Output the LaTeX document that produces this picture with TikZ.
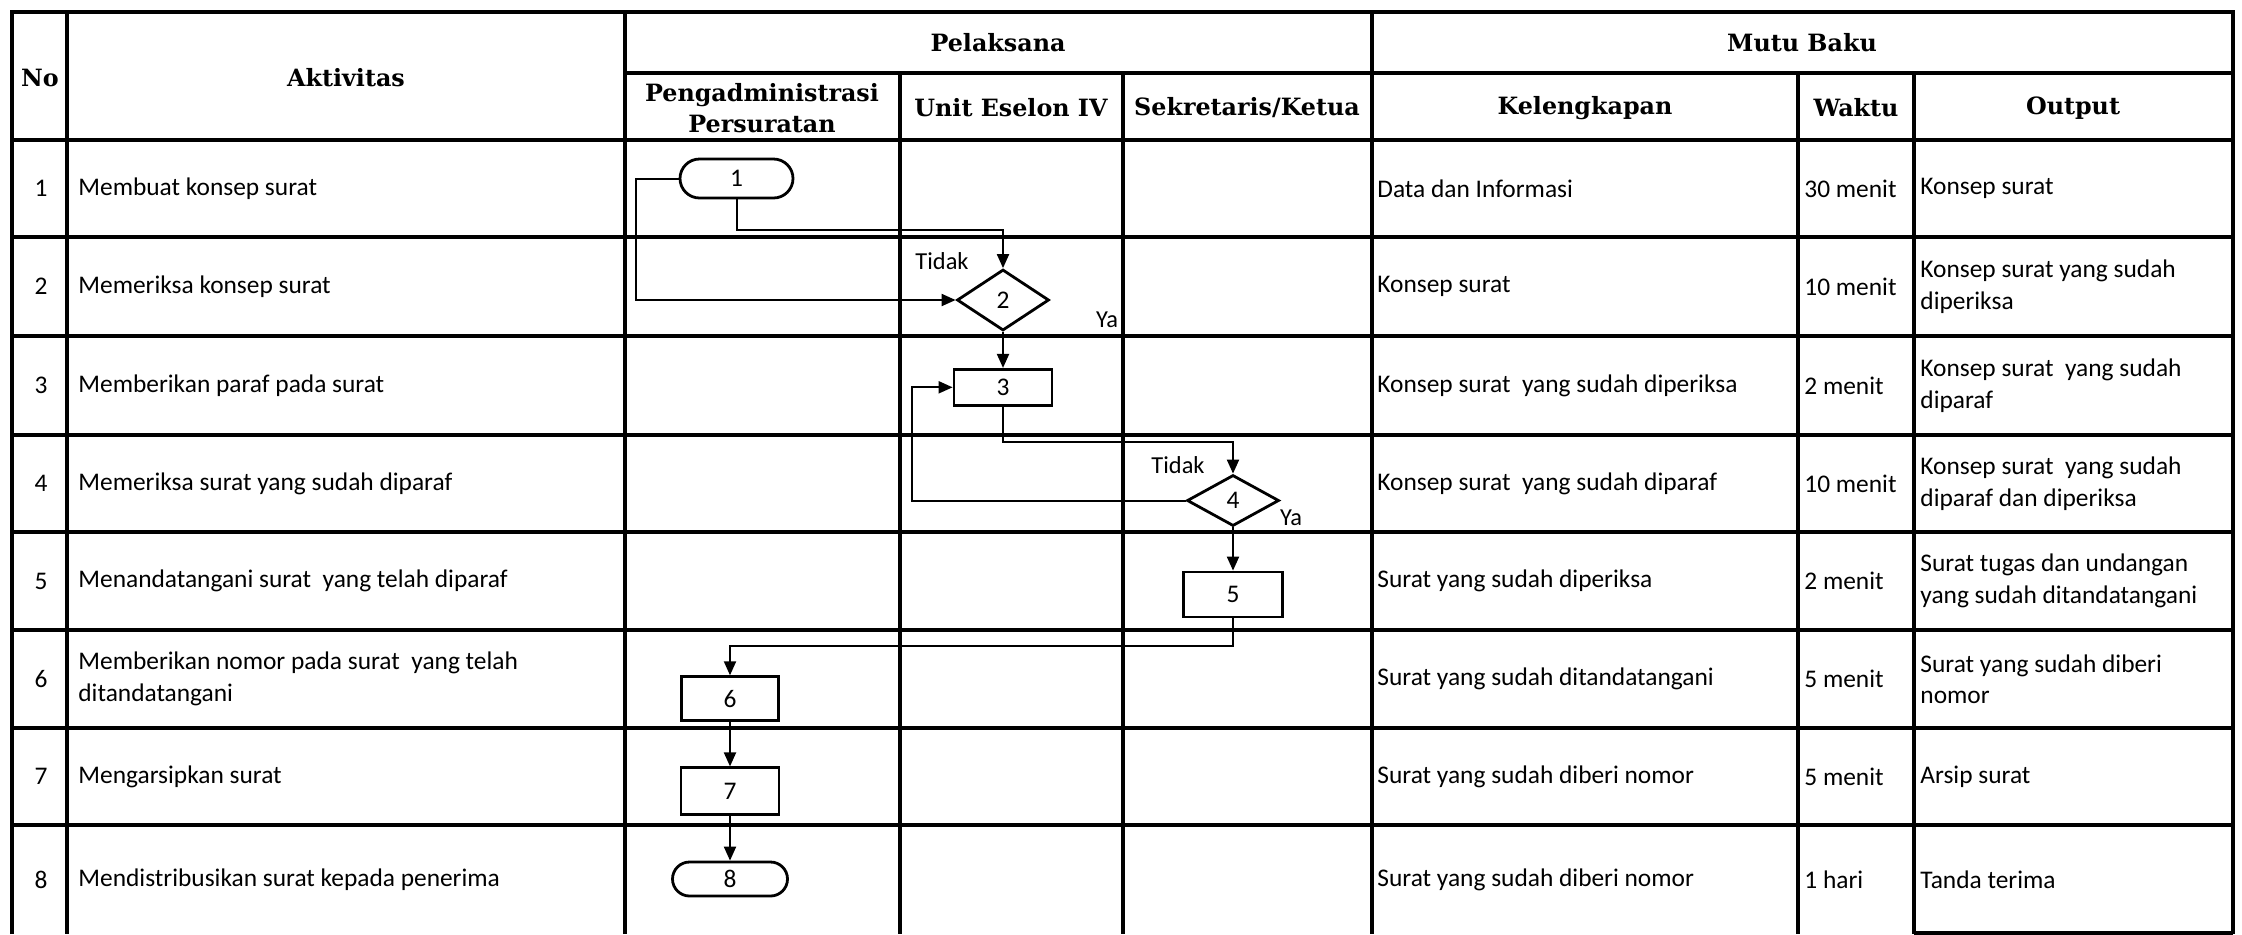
\documentclass[tikz,border=0pt]{standalone}
\usepackage{fontspec}
\setmainfont{Carlito}
\newfontfamily\hdrfont{DejaVu Serif}
\usetikzlibrary{shapes.geometric,shapes.misc,arrows.meta}

\begin{document}
\begin{tikzpicture}[x=0.5pt,y=-0.5pt,
  every node/.style={inner sep=0pt, font=\fontsize{12.7}{15.75}\selectfont},
  tbl/.style={line width=1.6pt},
  cell/.style={anchor=west, align=left},
  head/.style={font=\hdrfont\bfseries\fontsize{11.9}{15.5}\selectfont, align=center},
  shapeline/.style={draw, line width=1.4pt},
  proc/.style={shapeline, rectangle},
  term/.style={shapeline, rounded rectangle},
  dec/.style={shapeline, diamond},
  flow/.style={line width=1pt, -{Triangle[length=7pt,width=6pt]}},
  lbl/.style={font=\fontsize{12.2}{14}\selectfont}
]
\useasboundingbox (0,0) rectangle (2242,934);

% ---- table frame and rules ----
\draw[tbl] (12,934) -- (12,12) -- (2233,12) -- (2233,934);
\draw[tbl] (67,12) -- (67,934);
\draw[tbl] (625,12) -- (625,934);
\draw[tbl] (1372,12) -- (1372,934);
\draw[tbl] (900,73) -- (900,934);
\draw[tbl] (1123,73) -- (1123,934);
\draw[tbl] (1798,73) -- (1798,934);
\draw[tbl] (1914,73) -- (1914,934);
\draw[tbl] (625,73) -- (2233,73);
\foreach \y in {140,237,336,435,532,630,728,825}
  \draw[tbl] (12,\y) -- (2233,\y);
\draw[tbl] (1914,933) -- (2233,933);

% ---- header ----
\node[head] (hno)   at (40,78)    {No};
\node[head] (hakt)  at (346,78)   {Aktivitas};
\node[head] (hpel)  at (998,43)   {Pelaksana};
\node[head] (hmutu) at (1802,43)  {Mutu Baku};
\node[head] (hpeng) at (762,108)  {Pengadministrasi\\Persuratan};
\node[head] (hunit) at (1011,108) {Unit Eselon IV};
\node[head] (hsek)  at (1247,108) {Sekretaris/Ketua};
\node[head] (hkel)  at (1585,108) {Kelengkapan};
\node[head] (hwak)  at (1856,108) {Waktu};
\node[head] (hout)  at (2073,108) {Output};

% ---- row numbers ----
\foreach \i/\y in {1/188.5,2/286.5,3/385.5,4/483.5,5/581,6/679,7/776.5,8/879.5}
  \node (n\i) at (41,\y) {\i};

% ---- activities ----
\node[cell] (a1) at (78,188.5) {Membuat konsep surat};
\node[cell] (a2) at (78,286.5) {Memeriksa konsep surat};
\node[cell] (a3) at (78,385.5) {Memberikan paraf pada surat};
\node[cell] (a4) at (78,483.5) {Memeriksa surat yang sudah diparaf};
\node[cell] (a5) at (78,581)   {Menandatangani surat~ yang telah diparaf};
\node[cell] (a6) at (78,679)   {Memberikan nomor pada surat~ yang telah\\ditandatangani};
\node[cell] (a7) at (78,776.5) {Mengarsipkan surat};
\node[cell] (a8) at (78,879.5) {Mendistribusikan surat kepada penerima};

% ---- kelengkapan ----
\node[cell] (k1) at (1377,188.5) {Data dan Informasi};
\node[cell] (k2) at (1377,286.5) {Konsep surat};
\node[cell] (k3) at (1377,385.5) {Konsep surat~ yang sudah diperiksa};
\node[cell] (k4) at (1377,483.5) {Konsep surat~ yang sudah diparaf};
\node[cell] (k5) at (1377,581)   {Surat yang sudah diperiksa};
\node[cell] (k6) at (1377,679)   {Surat yang sudah ditandatangani};
\node[cell] (k7) at (1377,776.5) {Surat yang sudah diberi nomor};
\node[cell] (k8) at (1377,879.5) {Surat yang sudah diberi nomor};

% ---- waktu ----
\node[cell] (w1) at (1804,188.5) {30 menit};
\node[cell] (w2) at (1804,286.5) {10 menit};
\node[cell] (w3) at (1804,385.5) {2 menit};
\node[cell] (w4) at (1804,483.5) {10 menit};
\node[cell] (w5) at (1804,581)   {2 menit};
\node[cell] (w6) at (1804,679)   {5 menit};
\node[cell] (w7) at (1804,776.5) {5 menit};
\node[cell] (w8) at (1804,879.5) {1 hari};

% ---- output ----
\node[cell] (o1) at (1920,188.5) {Konsep surat};
\node[cell] (o2) at (1920,286.5) {Konsep surat yang sudah\\diperiksa};
\node[cell] (o3) at (1920,385.5) {Konsep surat~ yang sudah\\diparaf};
\node[cell] (o4) at (1920,483.5) {Konsep surat~ yang sudah\\diparaf dan diperiksa};
\node[cell] (o5) at (1920,581)   {Surat tugas dan undangan\\yang sudah ditandatangani};
\node[cell] (o6) at (1920,679)   {Surat yang sudah diberi\\nomor};
\node[cell] (o7) at (1920,776.5) {Arsip surat};
\node[cell] (o8) at (1920,879.5) {Tanda terima};

% ---- flowchart symbols ----
\node[term, minimum width=56.5pt, minimum height=19.5pt] (s1) at (736.5,178.5) {1};
\node[dec,  minimum width=46pt,   minimum height=30.5pt] (s2) at (1003,300)    {2};
\node[proc, minimum width=49pt,   minimum height=18pt]   (s3) at (1003,387.3)  {3};
\node[dec,  minimum width=46pt,   minimum height=25.5pt] (s4) at (1233,500.5)  {4};
\node[proc, minimum width=49.5pt, minimum height=22.5pt] (s5) at (1233,594.5)  {5};
\node[proc, minimum width=48.5pt, minimum height=22pt]   (s6) at (730,698.7)   {6};
\node[proc, minimum width=49pt,   minimum height=23.5pt] (s7) at (730,791.3)   {7};
\node[term, minimum width=57.5pt, minimum height=17pt]   (s8) at (730,879)     {8};

% ---- decision labels ----
\node[lbl] (t2) at (942,261)  {Tidak};
\node[lbl] (y2) at (1107,320) {Ya};
\node[lbl] (t4) at (1178,465) {Tidak};
\node[lbl] (y4) at (1291,518) {Ya};

% ---- connectors ----
\coordinate (c1) at (1003,230);
\coordinate (c2) at (636,300);
\coordinate (c3) at (1233,442);
\coordinate (c4) at (912,387.3);
\coordinate (c5) at (730,646);
\draw[flow] (s1.south) |- (c1) -- (s2.north);
\draw[flow] (s1.west) -| (c2) -- (s2.west);
\draw[flow] (s2.south) -- (s3.north);
\draw[flow] (s3.south) |- (c3) -- (s4.north);
\draw[flow] (s4.west) -| (c4) -- (s3.west);
\draw[flow] (s4.south) -- (s5.north);
\draw[flow] (s5.south) |- (c5) -- (s6.north);
\draw[flow] (s6.south) -- (s7.north);
\draw[flow] (s7.south) -- (s8.north);
\end{tikzpicture}
\end{document}
